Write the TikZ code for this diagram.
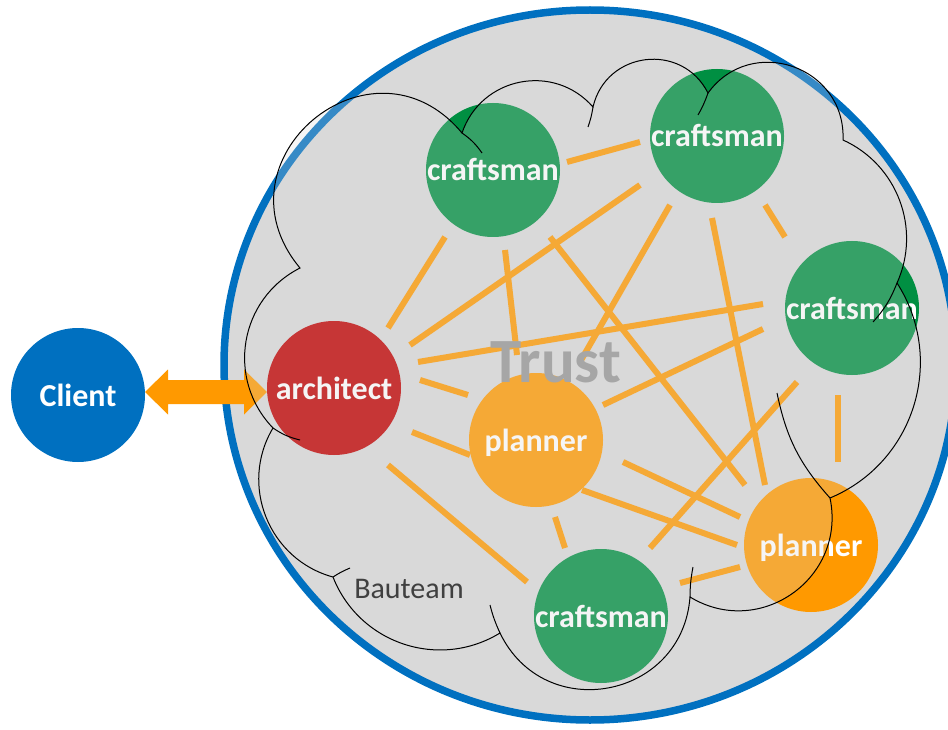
\documentclass[tikz,border=0pt]{standalone}
\usepackage{fontspec}
\setmainfont{Carlito}
\usetikzlibrary{calc}
\definecolor{ringblue}{RGB}{0,112,192}
\definecolor{bggray}{RGB}{217,217,217}
\definecolor{orangec}{RGB}{255,153,0}
\definecolor{craftc}{RGB}{0,143,66}
\definecolor{archc}{RGB}{192,0,0}
\definecolor{trustc}{RGB}{166,166,166}
\definecolor{teamc}{RGB}{64,64,64}
\tikzset{
  ball/.style={circle, minimum size=134pt, inner sep=0pt, text=white,
    font=\bfseries\fontsize{32}{36}\selectfont, text height=22pt, text depth=0pt},
  link/.style={draw=orangec, line width=6pt},
  cloudline/.style={draw=black, line width=1pt},
  bump/.style n args={4}{insert path={.. controls ($(#1)!#3!(#2)!#4!90:(#2)$) and ($(#2)!#3!(#1)!#4!-90:(#1)$) .. (#2)}}
}
\begin{document}
\begin{tikzpicture}[x=1pt,y=-1pt]
\useasboundingbox (0,0) rectangle (948,730);
% big circle
\path[fill=bggray, draw=ringblue, line width=7.5pt] (590,365) ellipse [x radius=366, y radius=355];
% nodes
\node[ball, fill=ringblue] (client) at (78,395) {Client};
\node[ball, fill=archc] (arch) at (334,388) {architect};
\node[ball, fill=craftc] (cr1) at (493,170) {craftsman};
\node[ball, fill=craftc] (cr2) at (717,136) {craftsman};
\node[ball, fill=craftc] (cr3) at (852,308) {craftsman};
\node[ball, fill=craftc] (cr4) at (601,616) {craftsman};
\node[ball, fill=orangec] (pl1) at (536,440) {planner};
\node[ball, fill=orangec] (pl2) at (811,545) {planner};
% double arrow client <-> architect
\coordinate (aL) at (145,392);
\coordinate (aR) at (267,392);
\fill[orangec] (aL) -- ++(23,-22.5) -- ++(0,10.5) -- ($(aR)+(-23,-12)$) -- ++(0,-10.5)
  -- (aR) -- ++(-23,22.5) -- ++(0,-10.5) -- ($(aL)+(23,12)$) -- ++(0,10.5) -- cycle;
% links
\coordinate (l1a) at (567,162); \coordinate (l1b) at (640,142);
\coordinate (l2a) at (640,185); \coordinate (l2b) at (410,345);
\coordinate (l3a) at (670,205); \coordinate (l3b) at (580,362);
\coordinate (l4a) at (712,218); \coordinate (l4b) at (765,485);
\coordinate (l5a) at (765,205); \coordinate (l5b) at (785,237);
\coordinate (l6a) at (445,237); \coordinate (l6b) at (388,328);
\coordinate (l7a) at (505,250); \coordinate (l7b) at (517,355);
\coordinate (l8a) at (550,237); \coordinate (l8b) at (745,485);
\coordinate (l9a) at (418,362); \coordinate (l9b) at (763,304);
\coordinate (l10a) at (420,380); \coordinate (l10b) at (468,395);
\coordinate (l11a) at (412,432); \coordinate (l11b) at (470,455);
\coordinate (l12a) at (388,465); \coordinate (l12b) at (527,582);
\coordinate (l13a) at (555,517); \coordinate (l13b) at (565,548);
\coordinate (l14a) at (582,490); \coordinate (l14b) at (737,545);
\coordinate (l15a) at (623,462); \coordinate (l15b) at (740,517);
\coordinate (l16a) at (603,405); \coordinate (l16b) at (763,329);
\coordinate (l17a) at (797,382); \coordinate (l17b) at (650,548);
\coordinate (l18a) at (838,395); \coordinate (l18b) at (838,462);
\coordinate (l19a) at (680,583); \coordinate (l19b) at (740,567);
\foreach \i in {1,...,19}{\draw[link] (l\i a) -- (l\i b);}
% cloud
\coordinate (P1) at (300,268);
\coordinate (P2) at (462,133);
\coordinate (P3) at (593,107);
\coordinate (P4) at (708,93);
\coordinate (P5) at (843,140);
\coordinate (P6) at (897,283);
\coordinate (P7) at (830,498);
\coordinate (P8) at (690,597);
\coordinate (P9) at (500,633);
\coordinate (P10) at (333,577);
\coordinate (P11) at (273,428);
\path[fill=bggray, fill opacity=0.25, cloudline] (P1)
  [bump={P1}{P2}{0}{0.667}]
  [bump={P2}{P3}{0.222}{0.495}]
  [bump={P3}{P4}{0.17}{0.563}]
  [bump={P4}{P5}{0.15}{0.58}]
  [bump={P5}{P6}{0.276}{0.381}]
  [bump={P6}{P7}{0.261}{0.421}]
  [bump={P7}{P8}{0.19}{0.54}]
  [bump={P8}{P9}{0.137}{0.592}]
  [bump={P9}{P10}{0.261}{0.421}]
  [bump={P10}{P11}{0.25}{0.44}]
  [bump={P11}{P1}{0.25}{0.45}] -- cycle;
\draw[cloudline] (P2) to[bend left=10] (482,153);
\draw[cloudline] (P3) to[bend left=5] (588,127);
\draw[cloudline] (P4) to[bend left=5] (698,115);
\draw[cloudline] (P6) to[bend left=10] (873,322);
\draw[cloudline] (P7) to[bend left=15] (777,393);
\draw[cloudline] (P8) to[bend left=5] (693,567);
\draw[cloudline] (P9) to[bend left=5] (490,605);
\draw[cloudline] (P10) to[bend left=5] (350,568);
\draw[cloudline] (P11) to[bend right=10] (300,440);
% texts on top
\node[text=trustc, font=\bfseries\fontsize{63}{70}\selectfont, anchor=base] (trust) at (556,382) {Trust};
\node[text=teamc, font=\fontsize{30}{36}\selectfont, anchor=base] (team) at (409,598) {Bauteam};
\end{tikzpicture}
\end{document}
